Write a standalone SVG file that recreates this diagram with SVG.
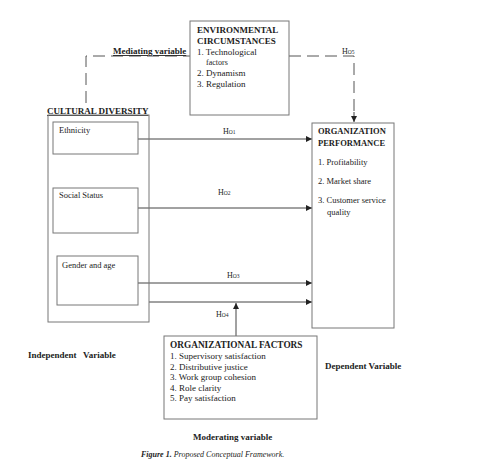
<svg xmlns="http://www.w3.org/2000/svg" width="486" height="476" viewBox="0 0 486 476">
<style>
text{font-family:"Liberation Serif","Times New Roman",serif;fill:#222}
.b{font-weight:bold}
.box{fill:none;stroke:#777;stroke-width:1}
.ln{fill:none;stroke:#444;stroke-width:1}
.dash{fill:none;stroke:#555;stroke-width:1;stroke-dasharray:12,6}
.s8{font-size:8px}
.s85{font-size:8.5px}
.s9{font-size:9px}
</style>
<defs>
<marker id="ah" viewBox="0 0 6 6" refX="6" refY="3" markerWidth="6" markerHeight="6" orient="auto" markerUnits="userSpaceOnUse">
<path d="M0,0 L6,3 L0,6 z" fill="#222"/>
</marker>
</defs>
<rect width="486" height="476" fill="#fff"/>
<g id="connectors">
<path class="dash" d="M86,103 V56 H190"/>
<path class="dash" d="M289,56 H354 V112"/>
<path class="ln" d="M354,112 V122" marker-end="url(#ah)"/>
<path class="ln" d="M138,139 H312" marker-end="url(#ah)"/>
<path class="ln" d="M138,208 H312" marker-end="url(#ah)"/>
<path class="ln" d="M138,283 H312" marker-end="url(#ah)"/>
<path class="ln" d="M149,302 H312" marker-end="url(#ah)"/>
<path class="ln" d="M236,336 V303" marker-end="url(#ah)"/>
<text class="s8" x="223" y="134">H<tspan font-size="5.5">O1</tspan></text>
<text class="s8" x="218" y="195">H<tspan font-size="5.5">O2</tspan></text>
<text class="s8" x="227" y="278">H<tspan font-size="5.5">O3</tspan></text>
<text class="s8" x="216" y="317">H<tspan font-size="5.5">O4</tspan></text>
<text class="s8" x="342" y="54">H<tspan font-size="5.5">O5</tspan></text>
<text class="b s9" x="113" y="54" text-decoration="underline">Mediating variable</text>
</g>
<g id="env">
<rect class="box" x="190" y="21" width="99" height="94"/>
<text class="b s9" x="197" y="33">ENVIRONMENTAL</text>
<text class="b s9" x="197" y="44">CIRCUMSTANCES</text>
<text class="s9" x="197" y="55">1. Technological</text>
<text class="s8" x="206" y="65">factors</text>
<text class="s9" x="197" y="76">2. Dynamism</text>
<text class="s9" x="197" y="87">3. Regulation</text>
</g>
<g id="cultural">
<text class="b" font-size="9" x="47" y="114" text-decoration="underline">CULTURAL DIVERSITY</text>
<rect class="box" x="48" y="115" width="101" height="207"/>
</g>
<g id="ethnicity">
<rect class="box" x="53" y="122" width="85" height="32"/>
<text class="s85" x="59" y="133">Ethnicity</text>
</g>
<g id="social">
<rect class="box" x="53" y="188" width="85" height="45"/>
<text class="s85" x="59" y="198">Social Status</text>
</g>
<g id="gender">
<rect class="box" x="57" y="256" width="81" height="49"/>
<text class="s85" x="62" y="268">Gender and age</text>
</g>
<g id="perf">
<rect class="box" x="312" y="123" width="82" height="205"/>
<text class="b s85" x="318" y="134">ORGANIZATION</text>
<text class="b s85" x="318" y="146">PERFORMANCE</text>
<text class="s85" x="318" y="165">1. Profitability</text>
<text class="s85" x="318" y="184">2. Market share</text>
<text class="s85" x="318" y="203">3. Customer service</text>
<text class="s85" x="327" y="215">quality</text>
</g>
<g id="factors">
<rect class="box" x="164" y="336" width="153" height="83"/>
<text class="b" font-size="9.3" x="170" y="348">ORGANIZATIONAL FACTORS</text>
<text class="s9" x="170" y="359">1. Supervisory satisfaction</text>
<text class="s9" x="170" y="370">2. Distributive justice</text>
<text class="s9" x="170" y="380">3. Work group cohesion</text>
<text class="s9" x="170" y="391">4. Role clarity</text>
<text class="s9" x="170" y="401">5. Pay satisfaction</text>
</g>
<g id="labels">
<text class="b s9" x="28" y="358" xml:space="preserve">Independent   Variable</text>
<text class="b s9" x="325" y="369">Dependent Variable</text>
<text class="b s9" x="193" y="440">Moderating variable</text>
<text font-size="8" font-style="italic" x="141" y="457"><tspan font-weight="bold">Figure 1.</tspan> Proposed Conceptual Framework.</text>
</g>
</svg>
